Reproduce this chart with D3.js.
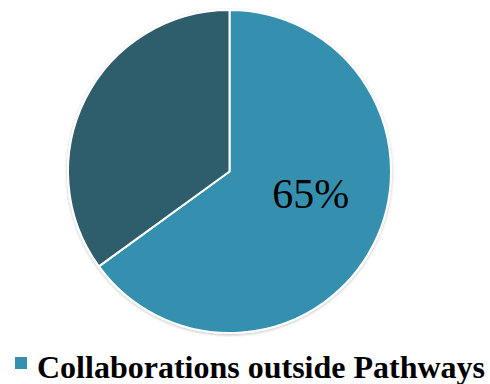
<!DOCTYPE html>
<html>
<head>
<meta charset="utf-8">
<script src="https://cdn.jsdelivr.net/npm/d3@7"></script>
<style>
  html, body { margin: 0; padding: 0; background: #ffffff; }
  svg { display: block; }
</style>
</head>
<body>
<svg id="chart" width="490" height="384"></svg>
<script>
// Share of collaborations
const categories = ["Collaborations outside Pathways", "Other"];
const values = [65, 35];
const sliceColors = ["#3590b0", "#2e5d6c"];
const legendCategories = ["Collaborations outside Pathways"];

const svg = d3.select("#chart");
const cx = 229.5, cy = 171.5, radius = 161.5;

const defs = svg.append("defs");
const shadow = defs.append("filter").attr("id", "soft").attr("x", "-10%").attr("y", "-10%").attr("width", "120%").attr("height", "120%");
shadow.append("feGaussianBlur").attr("in", "SourceAlpha").attr("stdDeviation", 1.5).attr("result", "b");
shadow.append("feOffset").attr("dy", 1).attr("result", "o");
shadow.append("feComponentTransfer").append("feFuncA").attr("type", "linear").attr("slope", 0.25);
const merge = shadow.append("feMerge");
merge.append("feMergeNode");
merge.append("feMergeNode").attr("in", "SourceGraphic");

const pie = d3.pie().sort(null).value(d => d.value);
const arcs = pie(categories.map((c, i) => ({ name: c, value: values[i] })));
const arc = d3.arc().innerRadius(0).outerRadius(radius);

const g = svg.append("g").attr("transform", `translate(${cx},${cy})`);
g.append("g").attr("filter", "url(#soft)")
  .selectAll("path")
  .data(arcs)
  .join("path")
  .attr("d", arc)
  .attr("fill", (d, i) => sliceColors[i])
  .attr("stroke", "#ffffff")
  .attr("stroke-width", 2)
  .attr("stroke-linejoin", "round");

// Percentage label on the main slice
const main = arcs[0];
const labelAngle = main.startAngle + (main.endAngle - main.startAngle) * 0.448;
const labelR = radius * 0.52;
g.append("text")
  .attr("x", labelR * Math.sin(labelAngle))
  .attr("y", -labelR * Math.cos(labelAngle))
  .attr("dy", "0.35em")
  .attr("text-anchor", "middle")
  .attr("font-family", "'Liberation Serif', 'Times New Roman', serif")
  .attr("font-size", 42)
  .attr("fill", "#000000")
  .text(d3.format(".0f")(main.data.value) + "%");

// Legend
const legend = svg.append("g").attr("transform", "translate(15,357)");
legend.selectAll("rect")
  .data(legendCategories)
  .join("rect")
  .attr("x", 0).attr("y", 0)
  .attr("width", 12).attr("height", 12)
  .attr("fill", sliceColors[0]);
legend.selectAll("text")
  .data(legendCategories)
  .join("text")
  .attr("x", 22).attr("y", 21)
  .attr("font-family", "'Liberation Serif', 'Times New Roman', serif")
  .attr("font-weight", "bold")
  .attr("font-size", 32)
  .attr("fill", "#000000")
  .text(d => d);
</script>
</body>
</html>
